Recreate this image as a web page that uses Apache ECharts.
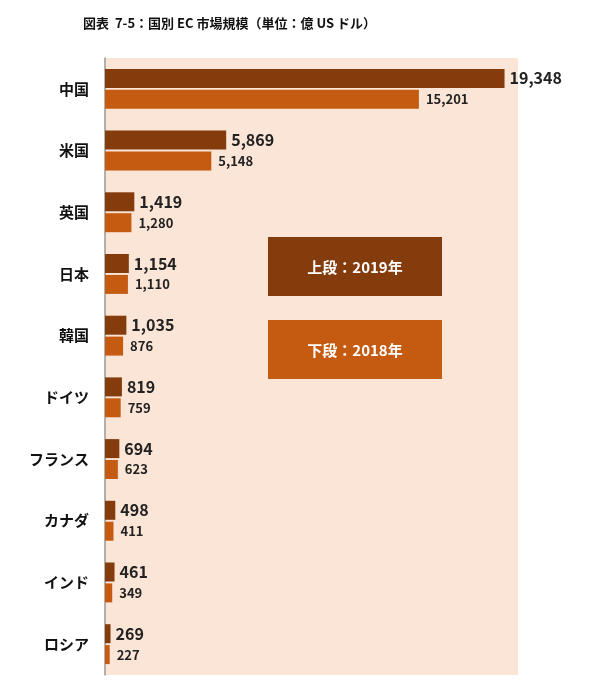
<!DOCTYPE html>
<html>
<head>
<meta charset="utf-8">
<script src="https://cdn.jsdelivr.net/npm/echarts@6/dist/echarts.min.js"></script>
<style>
  html, body { margin: 0; padding: 0; background: #fff; }
  #chart { width: 602px; height: 696px; }
</style>
</head>
<body>
<div id="chart"></div>
<script>
var countries = ['中国', '米国', '英国', '日本', '韓国', 'ドイツ', 'フランス', 'カナダ', 'インド', 'ロシア'];
var values2019 = [19348, 5869, 1419, 1154, 1035, 819, 694, 498, 461, 269];
var values2018 = [15201, 5148, 1280, 1110, 876, 759, 623, 411, 349, 227];

function fmt(p) {
  return p.value.toLocaleString('en-US');
}

var mychart = echarts.init(document.getElementById('chart'));

var option = {
  animation: false,
  textStyle: { fontFamily: '"Noto Sans CJK JP", sans-serif' },
  title: {
    text: '図表  7-5：国別 EC 市場規模（単位：億 US ドル）',
    left: 78,
    top: 12,
    textStyle: { fontSize: 13, fontWeight: 'bold', color: '#111', fontFamily: '"Noto Sans CJK JP", sans-serif' }
  },
  grid: {
    left: 105, top: 58, width: 413, height: 617,
    show: true, backgroundColor: '#FBE5D6', borderWidth: 0
  },
  xAxis: {
    type: 'value', min: 0, max: 20000, show: false
  },
  yAxis: {
    type: 'category',
    inverse: true,
    data: countries,
    axisLine: { show: true, lineStyle: { color: '#999', width: 1.5 } },
    axisTick: { show: false },
    axisLabel: { fontSize: 15, fontWeight: 'bold', color: '#111', margin: 16 }
  },
  series: [
    {
      name: '2019',
      type: 'bar',
      data: values2019,
      barWidth: 19,
      barGap: '10%',
      itemStyle: { color: '#843C0C' },
      label: { show: true, position: 'right', formatter: fmt, fontSize: 16, fontWeight: 'bold', color: '#222', distance: 5 }
    },
    {
      name: '2018',
      type: 'bar',
      data: values2018,
      barWidth: 19,
      itemStyle: { color: '#C55A11' },
      label: { show: true, position: 'right', formatter: fmt, fontSize: 13, fontWeight: 'bold', color: '#222', distance: 7 }
    }
  ],
  graphic: [
    {
      type: 'group', left: 268, top: 237,
      children: [
        { type: 'rect', shape: { width: 174, height: 59 }, style: { fill: '#843C0C' } },
        { type: 'text', x: 87, y: 30,
          style: { text: '上段：2019年', fill: '#fff', font: 'bold 15px "Noto Sans CJK JP"', textAlign: 'center', textVerticalAlign: 'middle' } }
      ]
    },
    {
      type: 'group', left: 268, top: 320,
      children: [
        { type: 'rect', shape: { width: 174, height: 59 }, style: { fill: '#C55A11' } },
        { type: 'text', x: 87, y: 30,
          style: { text: '下段：2018年', fill: '#fff', font: 'bold 15px "Noto Sans CJK JP"', textAlign: 'center', textVerticalAlign: 'middle' } }
      ]
    }
  ]
};

mychart.setOption(option);
</script>
</body>
</html>
